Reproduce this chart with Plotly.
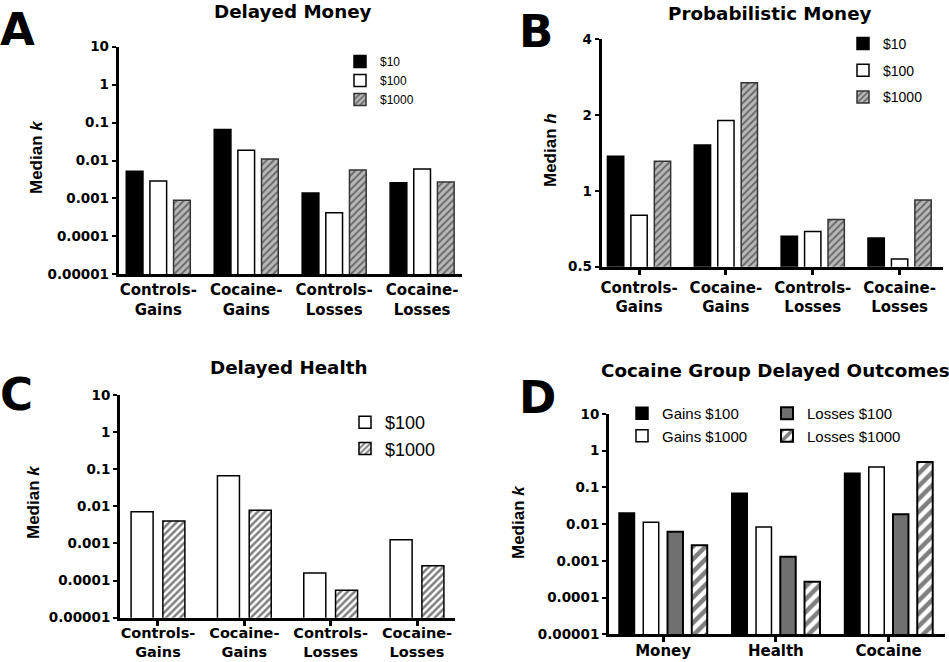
import math
import plotly.graph_objects as go

# ---------------- data ----------------
groups = ["Controls-<br>Gains", "Cocaine-<br>Gains", "Controls-<br>Losses", "Cocaine-<br>Losses"]

# Panel A: Delayed Money (median k)
a_10 = [0.0052, 0.066, 0.0014, 0.0026]
a_100 = [0.0029, 0.0186, 0.00042, 0.0060]
a_1000 = [0.00089, 0.011, 0.0056, 0.0027]

# Panel B: Probabilistic Money (median h)
b_10 = [1.37, 1.52, 0.66, 0.65]
b_100 = [0.80, 1.90, 0.69, 0.536]
b_1000 = [1.31, 2.68, 0.77, 0.92]

# Panel C: Delayed Health (median k)
c_100 = [0.0072, 0.067, 0.00016, 0.00126]
c_1000 = [0.0040, 0.0079, 0.000055, 0.00025]

# Panel D: Cocaine Group Delayed Outcomes (median k)
d_groups = ["Money", "Health", "Cocaine"]
d_gains_100 = [0.020, 0.069, 0.243]
d_gains_1000 = [0.0112, 0.0084, 0.36]
d_losses_100 = [0.0062, 0.0013, 0.0186]
d_losses_1000 = [0.00266, 0.00027, 0.49]

k_ticks = [1e-5, 1e-4, 1e-3, 1e-2, 1e-1, 1, 10]
k_ticktext = ["0.00001", "0.0001", "0.001", "0.01", "0.1", "1", "10"]
h_ticks = [0.5, 1, 2, 4]
h_ticktext = ["0.5", "1", "2", "4"]

# ---------------- style ----------------
FONT = "Liberation Sans, Arial, Helvetica, sans-serif"
BOLDFONT = "DejaVu Sans, Liberation Sans, sans-serif"
W, H = 949, 662


def px(x):
    return x / W


def py(y):
    return 1 - y / H


fig = go.Figure()


def add_group(xax, yax, cats, series, step, width, legend):
    n = len(series)
    for i, (name, vals, style, lg) in enumerate(series):
        center = (i - (n - 1) / 2) * step
        marker = dict(color=style.get("color", "white"),
                      line=dict(color=style.get("line", "black"), width=style.get("lw", 1.5)))
        if "pattern" in style:
            marker["pattern"] = style["pattern"]
        fig.add_trace(go.Bar(
            x=cats, y=vals, name=name, xaxis=xax, yaxis=yax,
            width=width, offset=center - width / 2,
            marker=marker, legend=lg or legend, legendgroup=f"{xax}-{i}", showlegend=True,
        ))


black = dict(color="black", line="black")
white = dict(color="white", line="black")
hatch_ab = dict(color="white", line="#333",
                pattern=dict(shape="/", fgcolor="#1a1a1a", bgcolor="#b8b8b8", size=5, solidity=0.4))
hatch_c = dict(color="white", line="black",
               pattern=dict(shape="/", fgcolor="black", bgcolor="white", size=5, solidity=0.5))
hatch_d = dict(color="white", line="black", lw=2,
               pattern=dict(shape="/", fgcolor="black", bgcolor="white", size=9, solidity=0.5))
gray_d = dict(color="#707070", line="black", lw=2)

add_group("x", "y", groups, [("$10", a_10, black, None), ("$100", a_100, white, None),
                             ("$1000", a_1000, hatch_ab, None)], 0.269, 0.19, "legend")
add_group("x2", "y2", groups, [("$10", b_10, black, None), ("$100", b_100, white, None),
                               ("$1000", b_1000, hatch_ab, None)], 0.27, 0.188, "legend2")
add_group("x3", "y3", groups, [("$100", c_100, white, None), ("$1000", c_1000, hatch_c, None)],
          0.368, 0.255, "legend3")
add_group("x4", "y4", d_groups, [("Gains $100", d_gains_100, black, "legend4"),
                                 ("Gains $1000", d_gains_1000, white, "legend4"),
                                 ("Losses $100", d_losses_100, gray_d, "legend5"),
                                 ("Losses $1000", d_losses_1000, hatch_d, "legend5")],
          0.215, 0.137, "legend4")

tickfont = dict(family=BOLDFONT, size=13.5, color="black", weight="bold")


def xaxis(domain, rng, anchor, ticks, standoff=0, size=15):
    return dict(domain=domain, range=rng, anchor=anchor, type="category", showline=True, linewidth=3,
                linecolor="black", ticks=ticks, ticklen=5, tickwidth=3, tickcolor="black",
                showgrid=False, zeroline=False, fixedrange=True, automargin=False,
                tickfont=dict(family=BOLDFONT, size=size, color="black", weight="bold"),
                ticklabelstandoff=standoff)


def yaxis(domain, rng, anchor, tv, tt):
    return dict(domain=domain, range=rng, anchor=anchor, type="log", showline=True, linewidth=3,
                linecolor="black", ticks="outside", ticklen=4, tickwidth=2, tickcolor="black",
                tickvals=tv, ticktext=tt, showgrid=False, zeroline=False, tickfont=tickfont,
                fixedrange=True, automargin=False)


fig.update_layout(
    xaxis=xaxis([px(118.7), px(461.7)], [-0.45, 3.45], "y", ""),
    yaxis=yaxis([py(274.3), py(46.7)], [-5, 1], "x", k_ticks, k_ticktext),
    xaxis2=xaxis([px(601.7), px(943)], [-0.43, 3.5], "y2", "outside"),
    yaxis2=yaxis([py(266.7), py(39)], [math.log10(0.5), math.log10(4)], "x2", h_ticks, h_ticktext),
    xaxis3=xaxis([px(120), px(455)], [-0.44, 3.44], "y3", "outside", -5, 14.5),
    yaxis3=yaxis([py(617.7), py(395)], [-5, 1], "x3", k_ticks, k_ticktext),
    xaxis4=xaxis([px(609), px(945)], [-0.48, 2.5], "y4", "outside", -4),
    yaxis4=yaxis([py(634.3), py(414)], [-5, 1], "x4", k_ticks, k_ticktext),
)


def leg(x, y, size, gap=0):
    return dict(x=x, y=y, xanchor="left", yanchor="top", bgcolor="rgba(0,0,0,0)",
                font=dict(family=FONT, size=size, color="black"), tracegroupgap=gap,
                traceorder="grouped")


fig.update_layout(
    legend=leg(px(340), py(47), 12),
    legend2=leg(px(843), py(28), 14, 5.5),
    legend3=leg(px(345), py(404), 18),
    legend4=leg(px(622), py(397), 15),
    legend5=leg(px(767), py(397), 15),
)

annotations = []
for t, x, y in [("A", -2, 1), ("B", 517, 3), ("C", -2, 366), ("D", 517, 369)]:
    annotations.append(dict(text=t, x=px(x), y=py(y), xref="paper", yref="paper", xanchor="left",
                            yanchor="top", showarrow=False,
                            font=dict(family=BOLDFONT, size=45, color="black", weight="bold")))
for t, x, y in [("Delayed Money", 293, 12), ("Probabilistic Money", 770, 13),
                ("Delayed Health", 288, 367), ("Cocaine Group Delayed Outcomes", 775, 370)]:
    annotations.append(dict(text=t, x=px(x), y=py(y), xref="paper", yref="paper", xanchor="center",
                            yanchor="middle", showarrow=False,
                            font=dict(family=BOLDFONT, size=18.3, color="black", weight="bold")))
for t, x, y in [("Median <i>k</i>", 37, 157), ("Median <i>h</i>", 550, 150),
                ("Median <i>k</i>", 33, 502), ("Median <i>k</i>", 518, 522)]:
    annotations.append(dict(text=t, x=px(x), y=py(y), xref="paper", yref="paper", xanchor="center",
                            yanchor="middle", showarrow=False, textangle=-90,
                            font=dict(family=FONT, size=17, color="black", weight="bold")))

fig.update_layout(
    width=W, height=H, margin=dict(l=0, r=0, t=0, b=0, autoexpand=False),
    paper_bgcolor="white", plot_bgcolor="white",
    barmode="overlay", showlegend=True, annotations=annotations,
    font=dict(family=FONT, color="black"),
)

fig.write_html("out.html", config={"displayModeBar": False, "staticPlot": True},
               post_script="document.body.style.margin='0';document.body.style.overflow='hidden';")
